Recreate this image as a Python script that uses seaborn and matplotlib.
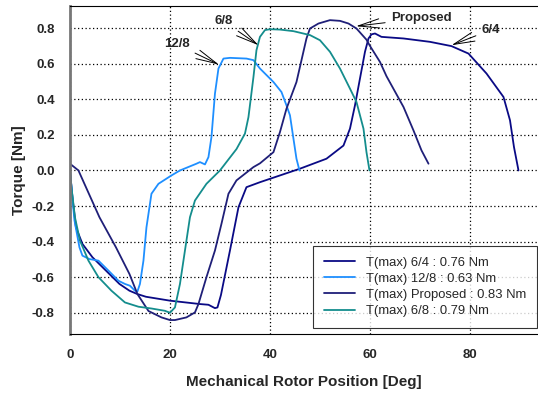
import pandas as pd
import seaborn as sns
import matplotlib.pyplot as plt
from matplotlib.ticker import FormatStrFormatter

# Torque curves (deg, Nm)
x_64 = [0, 0.5, 1.2, 2.5, 4.5, 7.2, 9.9, 11.9, 13.5, 15.2, 20, 26, 27.7, 29, 29.5, 30.2, 32, 33.7,
        35.3, 38, 42, 46, 51.3, 54.7, 56, 57, 58, 59, 59.7, 60.3, 61, 62.3, 66.7, 72, 76.3, 79.7,
        83.3, 86.7, 88, 88.8, 89.7]
y_64 = [0, -0.15, -0.32, -0.413, -0.488, -0.563, -0.638, -0.676, -0.695, -0.71, -0.732, -0.751,
        -0.755, -0.774, -0.77, -0.70, -0.45, -0.207, -0.094, -0.066, -0.028, 0.01, 0.066, 0.14,
        0.235, 0.366, 0.517, 0.667, 0.742, 0.765, 0.77, 0.751, 0.742, 0.723, 0.699, 0.657, 0.545,
        0.413, 0.282, 0.131, 0.0]

x_128 = [0, 0.9, 1.9, 2.5, 3.9, 5.7, 7.7, 9.7, 11, 12, 13, 13.5, 14, 14.7, 15.3, 16.3, 17.7, 20.3,
         22, 25.3, 26, 27, 27.7, 28.3, 29, 29.7, 30.7, 32, 35.3, 36.7, 38, 40.7, 42.3, 43.3, 44,
         44.7, 45.3, 45.9]
y_128 = [0, -0.28, -0.432, -0.479, -0.498, -0.507, -0.563, -0.62, -0.638, -0.648, -0.676, -0.68,
         -0.638, -0.507, -0.32, -0.131, -0.075, -0.028, 0.0, 0.038, 0.047, 0.034, 0.075, 0.188,
         0.432, 0.573, 0.629, 0.633, 0.629, 0.62, 0.573, 0.497, 0.441, 0.366, 0.31, 0.178, 0.066, 0.0]

x_prop = [0, 1.7, 3.2, 5.9, 9.2, 11.9, 13.5, 15.7, 18.3, 20, 21, 23.3, 25, 25.7, 27.3, 29, 30.3,
          31.7, 33.3, 36.7, 38, 40.7, 42, 43.3, 45.3, 47.3, 48, 49.7, 52, 54, 55.7, 57.3, 59.3, 60,
          62, 63.3, 66.7, 68.7, 70.3, 71.7]
y_prop = [0.038, 0, -0.094, -0.263, -0.432, -0.582, -0.695, -0.79, -0.826, -0.841, -0.841, -0.826,
          -0.798, -0.751, -0.6, -0.45, -0.3, -0.131, -0.056, 0.019, 0.04, 0.103, 0.216, 0.347,
          0.497, 0.742, 0.798, 0.826, 0.845, 0.841, 0.826, 0.798, 0.735, 0.7, 0.61, 0.53, 0.357,
          0.225, 0.113, 0.038]

x_68 = [0, 0.3, 1, 2, 3.7, 5.7, 8.3, 11, 13.7, 16.3, 19, 20, 21, 22, 23, 24, 25, 27.3, 30, 33.3,
        35, 35.7, 36.7, 37.3, 38, 39, 40, 42, 44.7, 48, 50, 52, 54, 56, 57.3, 58.7, 59.3, 59.9]
y_68 = [0, -0.094, -0.263, -0.394, -0.507, -0.6, -0.676, -0.742, -0.766, -0.776, -0.789, -0.8,
        -0.77, -0.638, -0.45, -0.263, -0.169, -0.075, 0.0, 0.12, 0.207, 0.3, 0.526, 0.676, 0.751,
        0.789, 0.794, 0.792, 0.783, 0.761, 0.732, 0.667, 0.573, 0.46, 0.385, 0.235, 0.103, 0.0]

labels = ['T(max) 6/4 : 0.76 Nm', 'T(max) 12/8 : 0.63 Nm',
          'T(max) Proposed : 0.83 Nm', 'T(max) 6/8 : 0.79 Nm']
colors = ['#0a0a85', '#1e8fff', '#1f1f78', '#148d8d']

frames = []
for lab, xs, ys in zip(labels, [x_64, x_128, x_prop, x_68], [y_64, y_128, y_prop, y_68]):
    frames.append(pd.DataFrame({'pos': xs, 'torque': ys, 'motor': lab}))
df = pd.concat(frames, ignore_index=True)

sns.set_style('white')
plt.rcParams['font.family'] = ['Liberation Sans', 'DejaVu Sans']
plt.rcParams['axes.unicode_minus'] = False

fig = plt.figure(figsize=(5.38, 3.94), dpi=100)
ax = fig.add_axes([0.130, 0.152, 0.870, 0.833])

sns.lineplot(data=df, x='pos', y='torque', hue='motor', hue_order=labels,
             palette=dict(zip(labels, colors)), sort=False, estimator=None,
             linewidth=1.3, ax=ax)

ax.set_xlim(0, 93.6)
ax.set_ylim(-0.92, 0.925)
ax.set_xticks([0, 20, 40, 60, 80])
ax.set_yticks([-0.8, -0.6, -0.4, -0.2, 0.0, 0.2, 0.4, 0.6, 0.8])
ax.yaxis.set_major_formatter(FormatStrFormatter('%.1f'))
ax.grid(True, color='black', linestyle=(0, (1, 2)), linewidth=0.9)

for lbl in ax.get_xticklabels() + ax.get_yticklabels():
    lbl.set_fontweight('bold')
ax.tick_params(axis='x', direction='inout', length=5, width=1, labelsize=9.5, pad=8)
ax.tick_params(axis='y', direction='out', length=2, width=1, labelsize=9.5, pad=9)

ax.spines['left'].set_color('#777777')
ax.spines['left'].set_linewidth(2)
ax.spines['bottom'].set_color('black')
ax.spines['top'].set_color('black')
ax.spines['right'].set_visible(False)

ax.set_xlabel('Mechanical Rotor Position [Deg]', fontsize=11, fontweight='bold', labelpad=10)
ax.set_ylabel('Torque [Nm]', fontsize=11, fontweight='bold', labelpad=4)

# callouts with the open arrowheads
arrow = dict(arrowstyle='->,head_length=1.6,head_width=0.35', color='black', lw=0.7,
             shrinkA=2, shrinkB=0)
ax.annotate('12/8', xy=(29.8, 0.595), xytext=(21.3, 0.71), fontsize=9.5, fontweight='bold',
            ha='center', va='center', arrowprops=arrow)
ax.annotate('6/8', xy=(37.7, 0.704), xytext=(30.7, 0.84), fontsize=9.5, fontweight='bold',
            ha='center', va='center', arrowprops=arrow)
ax.annotate('Proposed', xy=(57.2, 0.811), xytext=(70.3, 0.855), fontsize=9.5, fontweight='bold',
            ha='center', va='center', arrowprops=arrow)
ax.annotate('6/4', xy=(76.3, 0.704), xytext=(84.2, 0.79), fontsize=9.5, fontweight='bold',
            ha='center', va='center', arrowprops=arrow)

leg = ax.legend(loc='lower right', bbox_to_anchor=(0.998, 0.018), borderaxespad=0,
                fontsize=9.4, frameon=True, fancybox=False, edgecolor='black',
                handlelength=2.4, labelspacing=0.3, borderpad=0.85, title=None)
leg.get_frame().set_linewidth(0.8)

fig.savefig('out.png', dpi=100)
